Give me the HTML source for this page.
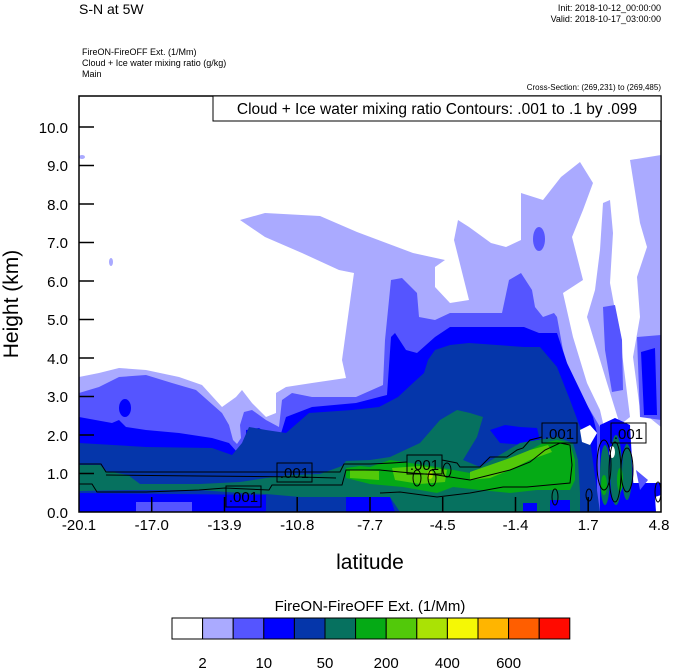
<!DOCTYPE html>
<html><head><meta charset="utf-8"><style>
html,body{margin:0;padding:0;background:#fff;}
svg{display:block;font-family:"Liberation Sans",Arial,sans-serif;}
</style></head><body>
<svg width="674" height="668" viewBox="0 0 674 668" xmlns="http://www.w3.org/2000/svg">
<rect width="674" height="668" fill="#fff"/>
<text x="79" y="14" font-size="14">S-N at 5W</text>
<text x="661" y="11" font-size="9" text-anchor="end">Init: 2018-10-12_00:00:00</text>
<text x="661" y="22" font-size="9" text-anchor="end">Valid: 2018-10-17_03:00:00</text>
<text x="82" y="55" font-size="9">FireON-FireOFF Ext.   (1/Mm)</text>
<text x="82" y="66" font-size="9">Cloud + Ice water mixing ratio   (g/kg)</text>
<text x="82" y="77" font-size="9">Main</text>
<text x="661" y="90" font-size="8" text-anchor="end">Cross-Section: (269,231) to (269,485)</text>

<g>
<!-- light blue -->
<polygon fill="#aaaaff" points="79,377 99,373 119,368 146,370 179,377 202,385 222,407 236,397 242,390 252,403 266,417 276,413 276,393 286,387 312,383 346,378 342,360 354,273 339,270 302,253 265,237 240,220 265,213 320,216 357,232 413,253 445,260 435,267 435,287 450,303 469,300 454,240 458,220 469,227 491,243 506,247 521,240 521,193 543,200 561,177 580,162 593,183 583,210 572,237 583,280 563,293 573,337 587,383 600,410 603,423 605,512 79,512"/>
<polygon fill="#aaaaff" points="603,203 610,200 613,233 610,283 620,337 630,417 620,425 607,383 597,350 587,317 595,290 600,250"/>
<polygon fill="#aaaaff" points="630,160 661,155 661,427 640,410 633,357 640,317 637,277 647,247 640,223"/>
<ellipse cx="82" cy="157" rx="3" ry="2" fill="#aaaaff"/>
<ellipse cx="111" cy="262" rx="2" ry="4" fill="#aaaaff"/>
<polygon fill="#5555ff" points="603,307 615,305 622,340 623,390 612,392 605,350"/>
<polygon fill="#5555ff" points="637,337 661,335 661,420 640,417"/>
<polygon fill="#0000ff" points="641,352 655,348 657,415 644,415"/>
<!-- medium blue -->
<polygon fill="#5555ff" points="79,393 99,387 119,377 146,375 172,383 196,390 222,413 229,425 233,440 237,444 241,438 240,425 244,412 252,410 266,420 279,427 282,400 292,393 312,397 356,397 383,385 385,340 391,280 402,278 417,293 419,317 435,320 450,313 502,313 509,280 521,273 532,290 535,307 543,317 554,313 557,317 563,350 573,383 590,410 600,427 600,512 79,512"/>
<ellipse cx="539" cy="239" rx="6" ry="12" fill="#5555ff"/>
<!-- blue -->
<polygon fill="#0000ff" points="79,417 112,423 119,420 126,427 146,430 179,433 212,438 229,443 237,452 246,447 246,430 259,428 279,440 286,417 312,407 356,403 387,395 391,337 395,333 406,350 417,353 435,337 450,327 524,327 539,333 557,333 567,363 580,390 593,417 597,433 597,512 79,512"/>
<ellipse cx="125" cy="408" rx="6" ry="9" fill="#0000ff"/>
<!-- dark blue -->
<polygon fill="#0536aa" points="79,443 146,447 212,448 232,455 242,443 249,427 266,430 286,433 309,413 352,410 379,407 398,397 413,383 424,373 428,360 435,350 450,345 469,343 524,347 540,347 557,367 570,400 580,427 590,440 600,512 79,512"/>
<polygon fill="#0000ff" points="490,430 505,425 520,427 537,428 540,440 525,445 500,443"/>
<!-- right bottom -->
<polygon fill="#0000ff" points="600,425 615,418 630,425 635,512 600,512"/>
<polygon fill="#fff" points="580,430 590,425 597,433 590,445 582,442"/>
<polygon fill="#fff" points="630,427 661,427 661,483 640,483"/>
<polygon fill="#0000ff" points="633,483 661,483 661,512 633,512"/>
<polygon fill="#5555ff" points="636,470 648,480 640,490"/>
<polygon fill="#fff" points="655,497 661,495 661,512 656,512"/>
<!-- bottom strips -->
<polygon fill="#0000ff" points="79,493 266,495 266,512 79,512"/>
<rect x="136" y="502" width="56" height="10" fill="#5555ff"/>
<polygon fill="#0000ff" points="346,496 390,497 395,512 346,512"/>
<!-- teal -->
<polygon fill="#06715f" points="79,465 100,465 106,471 128,475 140,484 200,484 240,482 266,478 290,475 320,474 342,466 346,461 370,460 390,457 420,443 440,420 457,410 470,413 483,417 477,437 463,460 480,467 503,453 520,443 537,440 557,437 573,443 578,460 580,493 580,512 400,512 390,497 346,497 300,497 266,494 240,493 200,490 140,490 128,490 79,491"/>
<rect x="523" y="503" width="14" height="9" fill="#0000ff"/>
<rect x="550" y="500" width="20" height="12" fill="#0000ff"/>
<ellipse cx="605" cy="475" rx="5" ry="30" fill="#06715f"/>
<ellipse cx="616" cy="470" rx="6" ry="35" fill="#06715f"/>
<ellipse cx="627" cy="472" rx="5" ry="28" fill="#06715f"/>
<ellipse cx="612" cy="452" rx="3" ry="6" fill="#fff"/>
<!-- green -->
<polygon fill="#05aa15" points="346,468 360,466 370,467 390,460 437,467 470,473 490,467 510,460 530,450 543,443 557,440 570,443 575,460 575,480 570,490 537,490 510,493 480,490 453,487 437,493 403,487 370,484 346,478"/>
<ellipse cx="620" cy="480" rx="3" ry="12" fill="#05aa15"/>
<ellipse cx="604" cy="485" rx="3" ry="10" fill="#05aa15"/>
<!-- light green -->
<polygon fill="#52c90a" points="392,468 420,466 447,470 445,482 420,484 395,480"/>
<polygon fill="#52c90a" points="470,472 490,465 510,458 530,450 548,445 552,452 530,460 510,470 490,478 470,480"/>
<polygon fill="#52c90a" points="350,470 379,471 379,480 350,478"/>
<ellipse cx="430" cy="475" rx="3" ry="4" fill="#aae205"/>
</g>

<g fill="none" stroke="#000" stroke-width="1">
<polyline points="79,464 101,464 106,472 340,472 344,464 370,464 392,463 407,462"/>
<polyline points="442,460 457,463 460,467 480,467 490,457 507,457 517,450 523,448 530,440 542,437"/>
<polyline points="106,475 200,476 300,477 336,478"/>
<polyline points="79,484 92,484 97,492 146,492 199,490 225,488 269,490 272,485 342,485 346,470 380,470 400,472 437,475 470,480 490,475 510,470 530,462 545,450 560,443 570,445 572,465 570,483 527,487 503,487 470,493 437,497 400,492 380,493"/>
<ellipse cx="417" cy="478" rx="4" ry="8"/>
<ellipse cx="432" cy="478" rx="4" ry="8"/>
<ellipse cx="447" cy="470" rx="4" ry="7"/>
<ellipse cx="555" cy="497" rx="3" ry="8"/>
<ellipse cx="589" cy="495" rx="3" ry="6"/>
<ellipse cx="604" cy="465" rx="7" ry="25"/>
<ellipse cx="615" cy="472" rx="6" ry="30"/>
<ellipse cx="627" cy="470" rx="6" ry="22"/>
<ellipse cx="658" cy="492" rx="3" ry="10"/>
</g>
<g fill="none" stroke="#000" stroke-width="1">
<rect x="277" y="463" width="35" height="19"/>
<rect x="226" y="486" width="35" height="21"/>
<rect x="407" y="455" width="35" height="19"/>
<rect x="542" y="423" width="35" height="20"/>
<rect x="611" y="423" width="35" height="20"/>
</g>
<g font-size="15" text-anchor="middle">
<text x="294.5" y="478">.001</text>
<text x="243.5" y="502">.001</text>
<text x="424.5" y="470">.001</text>
<text x="559.5" y="439">.001</text>
<text x="628.5" y="439">.001</text>
</g>

<rect x="79" y="96" width="582" height="416" fill="none" stroke="#000" stroke-width="1.5"/>
<rect x="213" y="96" width="448" height="25" fill="#fff" stroke="#000" stroke-width="1"/>
<text x="437" y="114" font-size="15.5" text-anchor="middle">Cloud + Ice water mixing ratio Contours: .001 to .1 by .099</text>
<g stroke="#000" stroke-width="1.5">
<line x1="79" y1="127" x2="94" y2="127"/><line x1="79" y1="165.5" x2="94" y2="165.5"/>
<line x1="79" y1="204" x2="94" y2="204"/><line x1="79" y1="242.5" x2="94" y2="242.5"/>
<line x1="79" y1="281" x2="94" y2="281"/><line x1="79" y1="319.5" x2="94" y2="319.5"/>
<line x1="79" y1="358" x2="94" y2="358"/><line x1="79" y1="396.5" x2="94" y2="396.5"/>
<line x1="79" y1="435" x2="94" y2="435"/><line x1="79" y1="473.5" x2="94" y2="473.5"/>
<line x1="151.7" y1="512" x2="151.7" y2="497"/><line x1="224.5" y1="512" x2="224.5" y2="497"/>
<line x1="297.2" y1="512" x2="297.2" y2="497"/><line x1="370" y1="512" x2="370" y2="497"/>
<line x1="442.7" y1="512" x2="442.7" y2="497"/><line x1="515.5" y1="512" x2="515.5" y2="497"/>
<line x1="588.2" y1="512" x2="588.2" y2="497"/>
</g>
<g font-size="15" text-anchor="end">
<text x="68" y="133">10.0</text><text x="68" y="171">9.0</text><text x="68" y="210">8.0</text>
<text x="68" y="248">7.0</text><text x="68" y="287">6.0</text><text x="68" y="325">5.0</text>
<text x="68" y="364">4.0</text><text x="68" y="402">3.0</text><text x="68" y="441">2.0</text>
<text x="68" y="479">1.0</text><text x="68" y="518">0.0</text>
</g>
<g font-size="15" text-anchor="middle">
<text x="79" y="530">-20.1</text><text x="151.7" y="530">-17.0</text><text x="224.5" y="530">-13.9</text>
<text x="297.2" y="530">-10.8</text><text x="370" y="530">-7.7</text><text x="442.7" y="530">-4.5</text>
<text x="515.5" y="530">-1.4</text><text x="588.2" y="530">1.7</text><text x="659" y="530">4.8</text>
</g>
<text x="370" y="569" font-size="21" text-anchor="middle">latitude</text>
<text transform="translate(18,304) rotate(-90)" font-size="21" text-anchor="middle">Height (km)</text>

<text x="370" y="611" font-size="15" text-anchor="middle">FireON-FireOFF Ext.  (1/Mm)</text>
<g stroke="#000" stroke-width="1">
<rect x="172" y="618" width="30.6" height="21" fill="#ffffff"/>
<rect x="202.6" y="618" width="30.6" height="21" fill="#aaaaff"/>
<rect x="233.2" y="618" width="30.6" height="21" fill="#5555ff"/>
<rect x="263.8" y="618" width="30.6" height="21" fill="#0000ff"/>
<rect x="294.4" y="618" width="30.6" height="21" fill="#0536aa"/>
<rect x="325" y="618" width="30.6" height="21" fill="#06715f"/>
<rect x="355.6" y="618" width="30.6" height="21" fill="#05aa15"/>
<rect x="386.2" y="618" width="30.6" height="21" fill="#52c90a"/>
<rect x="416.8" y="618" width="30.6" height="21" fill="#aae205"/>
<rect x="447.4" y="618" width="30.6" height="21" fill="#f5f805"/>
<rect x="478" y="618" width="30.6" height="21" fill="#ffb500"/>
<rect x="508.6" y="618" width="30.6" height="21" fill="#ff5e00"/>
<rect x="539.2" y="618" width="30.6" height="21" fill="#ff0a00"/>
</g>
<g font-size="15" text-anchor="middle">
<text x="202.6" y="668">2</text><text x="263.8" y="668">10</text><text x="325" y="668">50</text>
<text x="386.2" y="668">200</text><text x="447.4" y="668">400</text><text x="508.6" y="668">600</text>
</g>
</svg>
</body></html>
